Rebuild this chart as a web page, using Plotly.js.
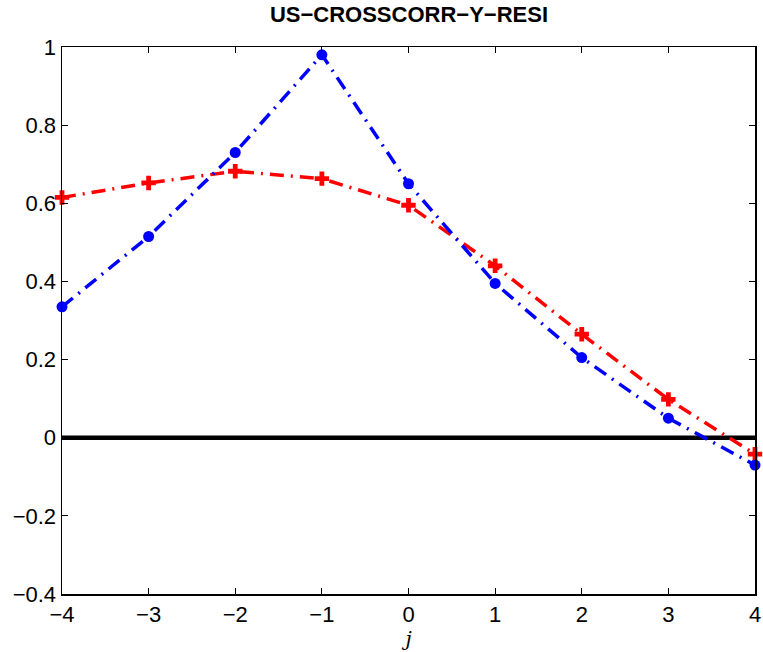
<!DOCTYPE html>
<html>
<head>
<meta charset="utf-8">
<script src="https://cdn.plot.ly/plotly-3.0.1.min.js"></script>
<style>html,body{margin:0;padding:0;background:#fff;}#chart{width:763px;height:652px;}</style>
</head>
<body>
<div id="chart"></div>
<script>
var lags = [-4, -3, -2, -1, 0, 1, 2, 3, 4];
var blueSeries = [0.335, 0.515, 0.73, 0.98, 0.65, 0.395, 0.205, 0.05, -0.07];
var redSeries = [0.615, 0.652, 0.682, 0.663, 0.595, 0.44, 0.265, 0.098, -0.042];
var zeroLineX = [-4, 4];
var zeroLineY = [0, 0];
var yTicks = [-0.4, -0.2, 0, 0.2, 0.4, 0.6, 0.8, 1];
var xTicks = [-4, -3, -2, -1, 0, 1, 2, 3, 4];

var font = 'Liberation Sans, Arial, Helvetica, sans-serif';

var traces = [
  {x: zeroLineX, y: zeroLineY, mode: 'lines', line: {color: '#000', width: 4.5}, hoverinfo: 'skip', showlegend: false},
  {x: lags, y: redSeries, mode: 'lines+markers', cliponaxis: false,
   line: {color: '#ff0000', width: 3.5, dash: '14px,7px,2px,7px'},
   marker: {symbol: 'cross', size: 12, color: '#ff0000'}, showlegend: false},
  {x: lags, y: blueSeries, mode: 'lines+markers', cliponaxis: false,
   line: {color: '#0000ff', width: 3.5, dash: '14px,7px,2px,7px'},
   marker: {symbol: 'circle', size: 11, color: '#0000ff'}, showlegend: false}
];

var layout = {
  width: 763, height: 652,
  margin: {l: 62, r: 8, t: 47, b: 58},
  paper_bgcolor: '#fff', plot_bgcolor: '#fff',
  title: {text: '<b>US\u2212CROSSCORR\u2212Y\u2212RESI</b>', font: {family: font, size: 22, color: '#000'}, x: 0.536, xanchor: 'center', y: 0.99, yanchor: 'top'},
  xaxis: {range: [-4, 4], tickvals: xTicks, ticks: 'inside', ticklen: 6, tickwidth: 1, tickcolor: '#000',
    showline: true, linecolor: '#000', linewidth: 1.5, mirror: 'ticks', showgrid: false, zeroline: false,
    tickfont: {family: font, size: 22, color: '#000'},
    title: {text: '<i>j</i>', font: {family: 'DejaVu Serif, Liberation Serif, serif', size: 20, color: '#000'}, standoff: 2}},
  yaxis: {range: [-0.4, 1], tickvals: yTicks, ticks: 'inside', ticklen: 6, tickwidth: 1, tickcolor: '#000',
    showline: true, linecolor: '#000', linewidth: 1.5, mirror: 'ticks', showgrid: false, zeroline: false,
    tickfont: {family: font, size: 22, color: '#000'}}
};

Plotly.newPlot('chart', traces, layout, {displayModeBar: false, staticPlot: true});
</script>
</body>
</html>
